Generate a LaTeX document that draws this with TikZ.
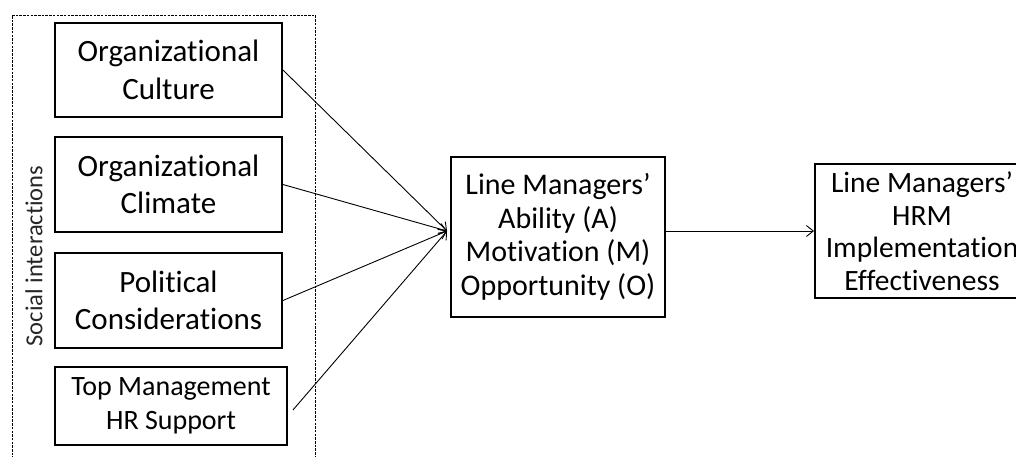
\documentclass[tikz,border=0pt]{standalone}
\usepackage{fontspec}
\setmainfont{Carlito}[Ligatures={NoCommon}]
\usetikzlibrary{arrows.meta}
\begin{document}
\begin{tikzpicture}[x=1pt,y=-1pt,
  factor/.style={draw=black, line width=1.9pt, align=center, inner sep=0pt,
    font=\fontsize{31}{37.5}\selectfont},
  apmbox/.style={draw=black, line width=1.9pt, align=center, inner sep=0pt,
    font=\fontsize{30}{33.5}\selectfont},
  link/.style={line width=0.9pt, -{Straight Barb[length=7pt,width=11pt,line width=0.9pt]}},
  group/.style={line width=0.9pt, dash pattern=on 2.5pt off 1.2pt}]
\useasboundingbox (0,0) rectangle (1016,457);

% social interactions frame
\draw[group] (12,470) -- (12,15) -- (315,15) -- (315,470);
\node[rotate=90, font=\fontsize{24.5}{28}\selectfont, text=black!85] (social) at (34,256) {Social interactions};

% antecedent factors
\node[factor, minimum width=227, minimum height=94] (culture) at (168.5,70) {Organizational\\Culture};
\node[factor, minimum width=227, minimum height=95] (climate) at (168.5,184.5) {Organizational\\Climate};
\node[factor, minimum width=227, minimum height=95] (politics) at (168.5,300.5) {Political\\Considerations};
\node[factor, minimum width=232, minimum height=78, font=\fontsize{28}{34}\selectfont] (support) at (171,406) {Top Management\\HR Support};

% AMO and outcome (the outcome box runs past the right margin)
\node[apmbox, minimum width=214, minimum height=160] (amo) at (558,237) {Line Managers’\\Ability (A)\\Motivation (M)\\Opportunity (O)};
\node[apmbox, minimum width=214, minimum height=134, font=\fontsize{29.5}{32.5}\selectfont] (hrm) at (922,231) {Line Managers’\\HRM\\Implementation\\Effectiveness};

\coordinate (meet) at (447,231);
\draw[link] (culture.east) -- (meet);
\draw[link] (climate.east) -- (meet);
\draw[link] (politics.east) -- (meet);
\draw[link] ([xshift=5pt,yshift=-4pt]support.east) -- (meet);
\draw[link] (hrm.west -| amo.east) -- (hrm.west);
\end{tikzpicture}
\end{document}
